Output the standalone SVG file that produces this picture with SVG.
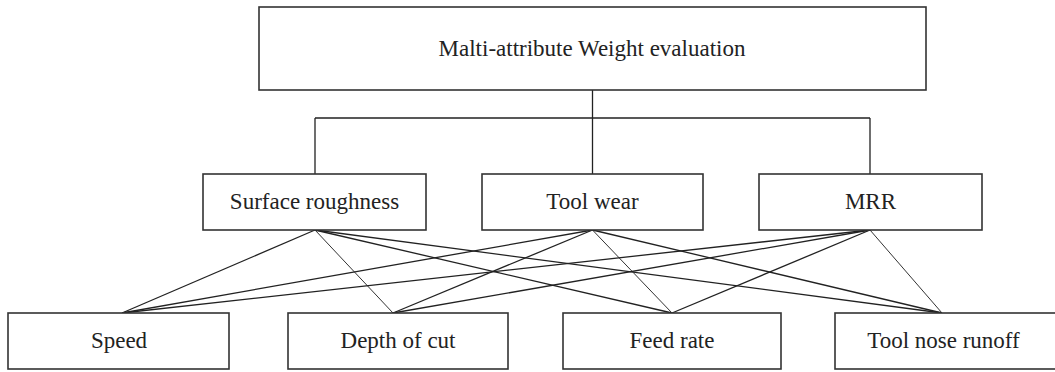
<svg xmlns="http://www.w3.org/2000/svg" width="1055" height="372" viewBox="0 0 1055 372">
<style>
.box{fill:#fff;stroke:#333;stroke-width:1.6}
.t{font-family:"Liberation Serif","Times New Roman",serif;font-size:23px;fill:#222;text-anchor:middle}
.c{fill:none;stroke:#222;stroke-width:1.3}
.d{fill:none;stroke:#333;stroke-width:1}
</style>
<rect width="1055" height="372" fill="#fff"/>
<g id="connectors">
<path class="c" d="M592.5 90V118M315 118H870M315 118V174M592.5 118V174M870 118V174"/>
<line class="c" x1="315" y1="230" x2="122" y2="313"/>
<line class="d" x1="315" y1="230" x2="393" y2="313"/>
<line class="c" x1="315" y1="230" x2="672" y2="313"/>
<line class="c" x1="315" y1="230" x2="942" y2="313"/>
<line class="c" x1="592.5" y1="230" x2="122" y2="313"/>
<line class="c" x1="592.5" y1="230" x2="393" y2="313"/>
<line class="d" x1="592.5" y1="230" x2="672" y2="313"/>
<line class="c" x1="592.5" y1="230" x2="942" y2="313"/>
<line class="c" x1="870" y1="230" x2="122" y2="313"/>
<line class="c" x1="870" y1="230" x2="393" y2="313"/>
<line class="c" x1="870" y1="230" x2="672" y2="313"/>
<line class="d" x1="870" y1="230" x2="942" y2="313"/>
</g>
<g id="top">
<rect class="box" x="259" y="7" width="667" height="83"/>
<text class="t" x="592" y="56">Malti-attribute Weight evaluation</text>
</g>
<g id="surface-roughness">
<rect class="box" x="203" y="174" width="223" height="56"/>
<text class="t" x="314.5" y="209">Surface roughness</text>
</g>
<g id="tool-wear">
<rect class="box" x="482" y="174" width="221" height="56"/>
<text class="t" x="592.5" y="209">Tool wear</text>
</g>
<g id="mrr">
<rect class="box" x="759" y="174" width="223" height="56"/>
<text class="t" x="870.5" y="209">MRR</text>
</g>
<g id="speed">
<rect class="box" x="8" y="313" width="221" height="56"/>
<text class="t" x="119" y="348">Speed</text>
</g>
<g id="depth-of-cut">
<rect class="box" x="288" y="313" width="220" height="56"/>
<text class="t" x="398" y="348">Depth of cut</text>
</g>
<g id="feed-rate">
<rect class="box" x="563" y="313" width="218" height="56"/>
<text class="t" x="672" y="348">Feed rate</text>
</g>
<g id="tool-nose-runoff">
<rect class="box" x="835" y="313" width="225" height="56"/>
<text class="t" x="943.5" y="348">Tool nose runoff</text>
</g>
</svg>
